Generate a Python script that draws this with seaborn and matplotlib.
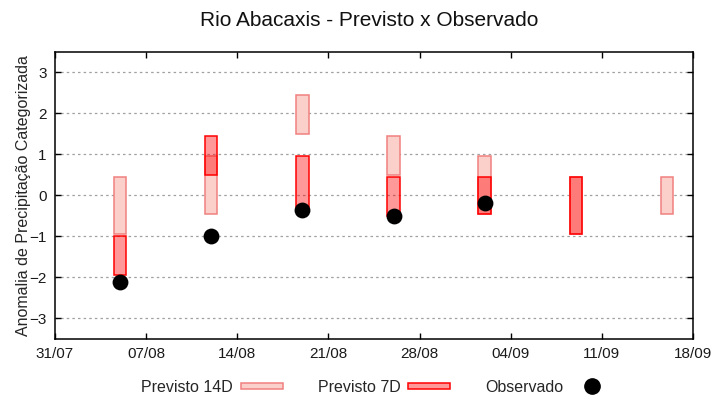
import matplotlib
matplotlib.use("Agg")
import matplotlib.pyplot as plt
import matplotlib.dates as mdates
import matplotlib.patches as mpatches
from matplotlib.lines import Line2D
from matplotlib.legend_handler import HandlerPatch
import seaborn as sns
import pandas as pd
import numpy as np

# ---- data ----
dates = ["2024-08-05", "2024-08-12", "2024-08-19", "2024-08-26",
         "2024-09-02", "2024-09-09", "2024-09-16"]
prev14_low = [-0.95, -0.45, 1.50, 0.50, -0.45, -0.95, -0.45]
prev14_high = [0.45, 0.95, 2.45, 1.45, 0.95, 0.45, 0.45]
prev7_low = [-1.95, 0.50, -0.35, -0.50, -0.45, -0.95, np.nan]
prev7_high = [-1.00, 1.45, 0.95, 0.45, 0.45, 0.45, np.nan]
observado = [-2.10, -1.00, -0.35, -0.50, -0.18, np.nan, np.nan]
xtick_dates = ["2024-07-31", "2024-08-07", "2024-08-14", "2024-08-21",
               "2024-08-28", "2024-09-04", "2024-09-11", "2024-09-18"]

sns.set_theme(style="white")
plt.rcParams["font.family"] = ["Liberation Sans", "DejaVu Sans"]

df = pd.DataFrame({
    "data": pd.to_datetime(dates),
    "p14_lo": prev14_low, "p14_hi": prev14_high,
    "p7_lo": prev7_low, "p7_hi": prev7_high,
    "obs": observado,
})

fig = plt.figure(figsize=(7.2, 4.0), dpi=100)
ax = fig.add_axes([55/720, 1-339/400, (693-55)/720, (339-51.7)/400])

c14_face = "#fcd0ca"
c14_edge = "#f08080"
c7_face = (1.0, 0.0, 0.0, 0.4)
c7_edge = "#ff0000"
width = pd.Timedelta(hours=23)

ax.bar(df["data"], df["p14_hi"] - df["p14_lo"], bottom=df["p14_lo"], width=width,
       color=c14_face, edgecolor=c14_edge, linewidth=1.1, zorder=2)
ax.bar(df["data"], df["p7_hi"] - df["p7_lo"], bottom=df["p7_lo"], width=width,
       color=c7_face, edgecolor=c7_edge, linewidth=1.1, zorder=3)
sns.scatterplot(data=df, x="data", y="obs", ax=ax, color="black", s=130,
                edgecolor="black", linewidth=0, zorder=4, legend=False)

ax.set_ylim(-3.5, 3.5)
ax.set_xlim(pd.Timestamp(xtick_dates[0]), pd.Timestamp(xtick_dates[-1]))
ax.set_yticks([-3, -2, -1, 0, 1, 2, 3])
ax.set_xticks(pd.to_datetime(xtick_dates))
ax.xaxis.set_major_formatter(mdates.DateFormatter("%d/%m"))
ax.set_xlabel("")
ax.set_ylabel("Anomalia de Precipitação Categorizada", fontsize=11.5, labelpad=-1)
ax.yaxis.grid(True, color="#a0a0a0", linestyle=(0, (2, 2.5)), linewidth=0.9)
ax.xaxis.grid(False)
ax.set_axisbelow(True)
ax.tick_params(axis="both", direction="in", length=4, width=1, color="black",
               top=True, right=True, bottom=True, left=True, labelsize=11,
               labelcolor="#1a1a1a", pad=6)
for s in ax.spines.values():
    s.set_color("black")
    s.set_linewidth(1.1)

fig.suptitle("Rio Abacaxis - Previsto x Observado", fontsize=15, x=369/720,
             y=1-20/400, va="center", color="#111111")


def make_rect(legend, orig_handle, xdescent, ydescent, width, height, fontsize):
    return mpatches.Rectangle((-xdescent, -ydescent + height*0.25), width, height*0.5)


h14 = mpatches.Patch(facecolor=c14_face, edgecolor=c14_edge, linewidth=1.1, label="Previsto 14D")
h7 = mpatches.Patch(facecolor=c7_face, edgecolor=c7_edge, linewidth=1.1, label="Previsto 7D")
hobs = Line2D([], [], marker="o", color="black", linestyle="none", markersize=11,
              label="Observado")
fig.legend(handles=[h14, h7, hobs], loc="center", bbox_to_anchor=(0.5 + 17/720, 1-387/400),
           ncol=3, frameon=False, markerfirst=False, fontsize=11.5,
           handlelength=2.6, handletextpad=0.5, columnspacing=2.2,
           handler_map={mpatches.Patch: HandlerPatch(patch_func=make_rect)})

fig.savefig("out.png", dpi=100)
